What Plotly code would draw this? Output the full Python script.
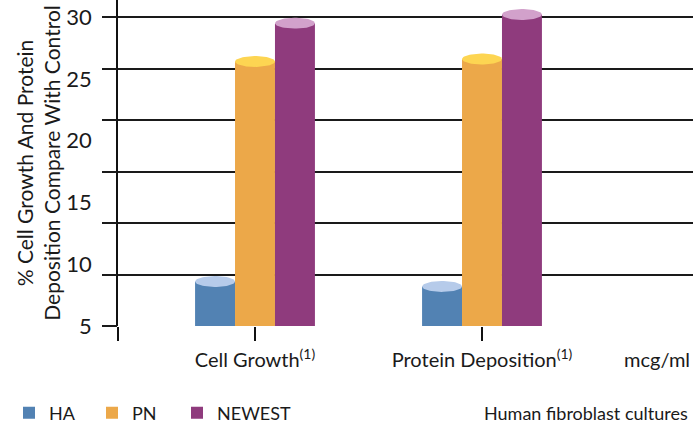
import numpy as np
import plotly.graph_objects as go

categories = ["Cell Growth<sup>(1)</sup>", "Protein Deposition<sup>(1)</sup>"]
series_names = ["HA", "PN", "NEWEST"]
ha_values = [8.6, 8.2]
pn_values = [26.4, 26.6]
newest_values = [29.5, 30.2]
y_tick_labels = [5, 10, 15, 20, 25, 30]

body_colors = ["#5282b3", "#eca849", "#8f3b7d"]
top_colors = ["#b6cbea", "#fdd552", "#d2a1cb"]
FONT = "Lato"
TXT = "#1a1a1a"

series_values = [ha_values, pn_values, newest_values]
bar_w = 0.176
offsets = [-bar_w, 0.0, bar_w]
group_pos = np.arange(len(categories))
legend_ids = ["legend", "legend2", "legend3"]
legend_px = [9, 92, 177]

fig = go.Figure()
for i, (name, vals) in enumerate(zip(series_names, series_values)):
    xs = group_pos + offsets[i]
    fig.add_trace(go.Bar(
        x=xs, y=vals, width=bar_w, name=name, legend=legend_ids[i],
        marker=dict(color=body_colors[i], line=dict(width=0)),
        showlegend=True,
    ))
# elliptical tops of the cylinders
t = np.linspace(0, 2 * np.pi, 60)
for i, vals in enumerate(series_values):
    for gx, v in zip(group_pos + offsets[i], vals):
        fig.add_trace(go.Scatter(
            x=gx + (bar_w / 2) * np.cos(t), y=v + 0.44 * np.sin(t),
            mode="lines", fill="toself", fillcolor=top_colors[i],
            line=dict(width=0), hoverinfo="skip", showlegend=False,
        ))

# dummy trace on overlay axis for gridlines
fig.add_trace(go.Scatter(x=[None], y=[None], yaxis="y2", showlegend=False))

x_lo, x_hi = -0.6035, 1.9295
legend_common = dict(orientation="h", xanchor="left", y=-(413 - 326) / 326, yanchor="middle",
                     font=dict(size=18, family=FONT, color=TXT), bgcolor="rgba(0,0,0,0)")
fig.update_layout(
    width=693, height=427,
    margin=dict(l=118, r=0, t=0, b=101, autoexpand=False),
    paper_bgcolor="white", plot_bgcolor="white",
    barmode="overlay",
    font=dict(family=FONT, color=TXT, size=19),
    xaxis=dict(
        range=[x_lo, x_hi], tickmode="array", automargin=False,
        tickvals=[x_lo, 0, 1], ticktext=["", categories[0], categories[1]],
        ticks="outside", ticklen=14, tickwidth=1.5, tickcolor="#111",
        showgrid=False, zeroline=False, showline=False,
        tickfont=dict(size=20, family=FONT, color=TXT),
        ticklabelstandoff=2,
    ),
    yaxis=dict(
        range=[5, 31.375], tickmode="array", tickvals=y_tick_labels, automargin=False,
        ticks="outside", ticklen=20, tickcolor="rgba(0,0,0,0)",
        showgrid=False, zeroline=False,
        showline=True, linecolor="#111", linewidth=1.5,
        tickfont=dict(size=22, family=FONT, color=TXT),
        title=dict(text="% Cell Growth And Protein<br>Deposition Compare With Control",
                   font=dict(size=21, family=FONT, color=TXT), standoff=0),
    ),
    yaxis2=dict(
        range=[0, 326 / 51.5], overlaying="y", side="left", dtick=1, tick0=0,
        automargin=False,
        showgrid=True, gridcolor="#1a1a1a", gridwidth=1.6,
        ticks="outside", ticklen=15, tickcolor="#1a1a1a", tickwidth=1.6,
        showticklabels=False, zeroline=False, showline=False,
    ),
    legend=dict(x=(legend_px[0] - 118) / 575, **legend_common),
    legend2=dict(x=(legend_px[1] - 118) / 575, **legend_common),
    legend3=dict(x=(legend_px[2] - 118) / 575, **legend_common),
    annotations=[
        dict(text="mcg/ml", xref="paper", x=(657 - 118) / 575, xanchor="center",
             yref="paper", y=-(359 - 326) / 326, yanchor="middle",
             showarrow=False, font=dict(size=20, family=FONT, color=TXT)),
        dict(text="Human fibroblast cultures", x=1.0, xanchor="right", xshift=-3,
             xref="paper", yref="paper", y=-(413 - 326) / 326, yanchor="middle",
             showarrow=False, font=dict(size=18, family=FONT, color=TXT)),
    ],
)

fig.write_html("out.html", config={"displayModeBar": False},
               post_script="document.body.style.margin='0';")
